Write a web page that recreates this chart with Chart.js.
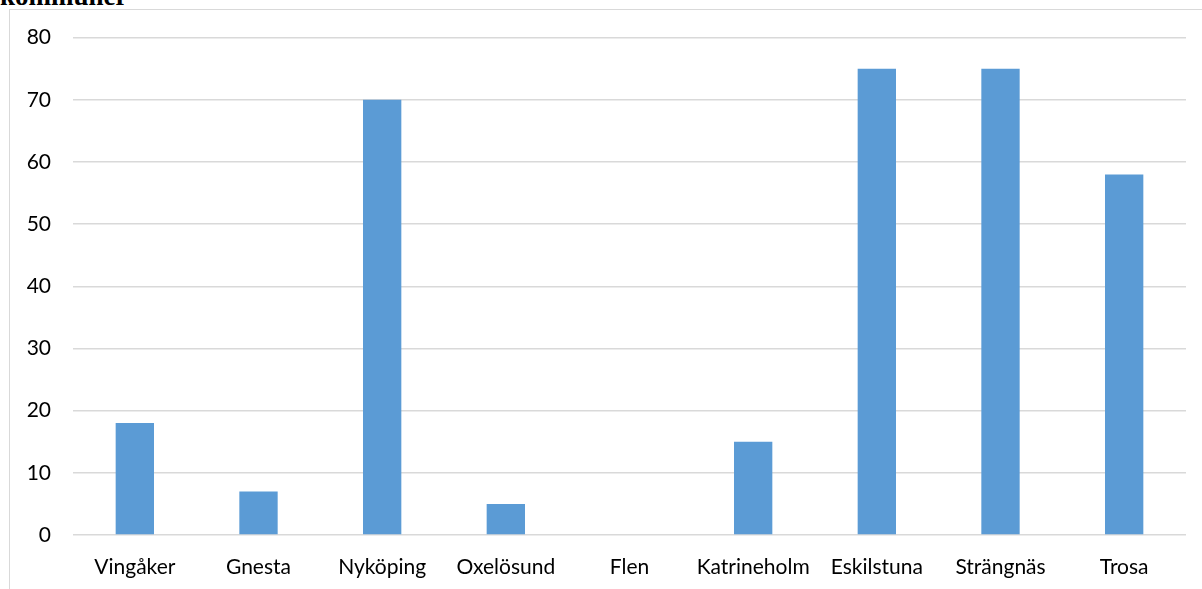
<!DOCTYPE html>
<html>
<head>
<meta charset="utf-8">
<script src="https://cdn.jsdelivr.net/npm/chart.js@4/dist/chart.umd.min.js"></script>
<style>
  body { margin: 0; background: #fff; overflow: hidden; }
  #title { position: absolute; left: 0; top: -19px; font: bold 27px "Liberation Serif", serif; color: #000; }
  #box { position: absolute; left: 9px; top: 9px; width: 1250px; height: 640px; border: 1px solid #d9d9d9; }
  #wrap { position: absolute; left: 0; top: -7px; width: 1192px; height: 586px; }
</style>
</head>
<body>
<div id="title">kommuner</div>
<div id="box"><div id="wrap"><canvas id="chart_kommuner"></canvas></div></div>
<script>
const kommuner = ["Vingåker", "Gnesta", "Nyköping", "Oxelösund", "Flen", "Katrineholm", "Eskilstuna", "Strängnäs", "Trosa"];
const antal = [18, 7, 70, 5, 0, 15, 75, 75, 58];
const yMax = 80;
const yStep = 10;

const config_kommuner = {
    type: "bar",
    data: {
        labels: kommuner,
        datasets: [
            {
                label: "Antal",
                data: antal,
                backgroundColor: "rgb(91,155,213)",
                barPercentage: 0.62,
                categoryPercentage: 0.5
            }
        ]
    },
    options: {
        responsive: true,
        maintainAspectRatio: false,
        animation: false,
        layout: { padding: { top: 13, right: 16, left: 0, bottom: 0 } },
        plugins: {
            legend: { display: false },
            title: { display: false },
            tooltip: { enabled: false }
        },
        scales: {
            x: {
                grid: { display: false },
                border: { display: false },
                ticks: {
                    color: "#000",
                    font: { family: "Lato", size: 21 },
                    maxRotation: 0,
                    autoSkip: false,
                    padding: 12
                },
                afterFit: function (s) { s.height = 54; }
            },
            y: {
                min: 0,
                max: yMax,
                grid: { color: "#d9d9d9", lineWidth: 1.5, drawTicks: false },
                border: { display: false },
                ticks: {
                    stepSize: yStep,
                    color: "#000",
                    font: { family: "Lato", size: 21 },
                    padding: 22
                },
                afterFit: function (s) { s.width = 63; }
            }
        }
    }
};

const ctx_kommuner = document.getElementById("chart_kommuner").getContext("2d");
const myChart_kommuner = new Chart(ctx_kommuner, config_kommuner);
</script>
</body>
</html>
